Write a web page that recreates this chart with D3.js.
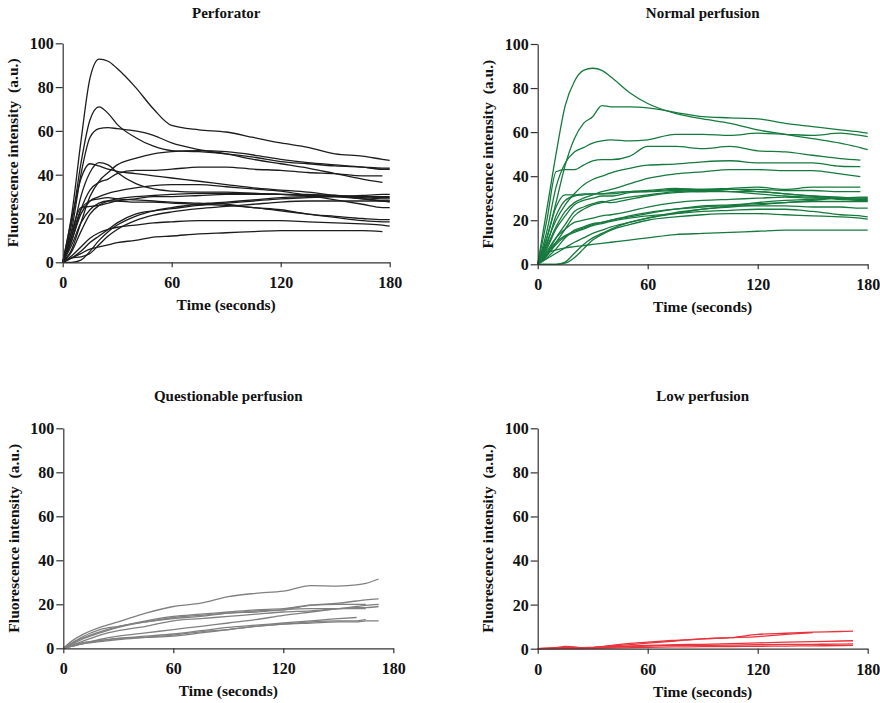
<!DOCTYPE html>
<html><head><meta charset="utf-8">
<script src="https://cdn.jsdelivr.net/npm/d3@7"></script>
<style>
body{margin:0;background:#fff;}
svg text{font-family:"Liberation Serif","Times New Roman",serif;font-weight:bold;fill:#111;}
</style></head>
<body><svg id="c" width="880" height="703"></svg>
<script>
// ---------- DATA ----------
const xTicks = [0, 60, 120, 180];
const yTicks = [0, 20, 40, 60, 80, 100];
const titles = ["Perforator", "Normal perfusion", "Questionable perfusion", "Low perfusion"];
const xLabel = "Time (seconds)";
const yLabel = "Fluorescence intensity  (a.u.)";

const perforatorTimes = [0,5,10,15,20,25,30,40,50,60,75,90,105,120,135,150,165,176,180];
const perforatorSeries = [
  [0,22,55,84,92.8,91.8,88.5,80,70,62.5,60.5,59.5,57,54.5,52.5,49.5,48.5,47,46.5],
  [0,18,45,65,71,68,63,57,53,51,50.5,49.5,48,46,45,44,43.5,43,43],
  [0,15,40,57,61,61.5,61,60,58,54.5,51.5,49.5,47,45,43,40.5,38,36.5,null],
  [0,20,38,45,44,42.5,41.5,40.5,39.5,38.5,37,35.5,34,33,32,30.5,29,28,28],
  [0,12,30,41,45.5,44.5,41,36,33.5,32.5,32,32,31.5,31,30.5,30,29,28,27.5],
  [0,6,18,30,37,41,44.5,47.5,49.5,50.5,51,50.5,49,47,45.5,44.5,43.5,42.5,42.5],
  [0,10,24,33,36.5,38,40.5,42,42,42.5,43.5,43.5,42.5,42,41,40.5,39.5,39.5,null],
  [0,10,22,28,30,31.5,32.5,34,35,35.5,35.5,34.5,33.5,32.5,30.5,28.5,26.5,25,25],
  [0,12,24,28,29,29.5,29,28.5,28,27.5,27,26.5,25,24,22,21,20,19.5,19.5],
  [0,8,18,24,27,28,28,27.5,27.5,27,26.5,26,25,23.5,22,20.5,19,18.5,18.5],
  [0,2,5,9,12,15,18,22,23.5,24.5,26,27,28,29,29.5,30,30.5,31,31],
  [0,3,7,11,13.5,15,16,17,18,18.5,19,19,19,19,18.5,18,17.5,17,16.5],
  [0,2,4,6,7,8,9,10,11.5,12,13,13.5,14,14.5,14.5,14.5,14.5,14,null],
  [0,0,1,5,10,14,17,21,23.5,25,26.5,27.5,28.5,29.5,30,30,29.5,29,29],
  [0,2,2.5,4,8,12,15,19,21.5,23,24.5,25.5,26.5,27.5,28,28,28,28,28],
  [0,5,14,22,26,28,29,30,30.5,31,31.5,31.5,31.5,31,30.5,30.5,30,30,30],
  [0,14,25,25.5,26,27,28,29,30,30,30.5,31,31,31,31,30.5,30,29.5,29.5]
];

const normalTimes = [0,5,10,15,20,25,30,35,40,50,60,75,90,105,120,135,150,165,176,180];
const normalSeries = [
  [0,25,50,72,83,88,89,88,85,78,73,68.5,66,64,61,59,57,55,53,52],
  [0,12,28,45,57,64,67,72,71.5,71.5,71,69,67,66.5,66,64,62.5,61,60,59.5],
  [0,15,35,46,51,53,55,56,56.5,56,56.5,59,59,58.5,59.5,59,58.5,59.5,58.5,58],
  [0,20,42,43,43,45,47,47.5,47.5,49,53.5,53.5,52.5,53.5,51.5,51,49.5,48,47.3,null],
  [0,10,20,27,32,36,38.5,40,41.5,43.5,45,45.5,46.5,47,46,46,46,44.5,44.3,null],
  [0,8,17,24,28,30,31.5,33,34,36.5,39,41,42,43,43,42.5,42.5,41,39.8,null],
  [0,12,26,31.5,31.5,32,32,32,32,33,33.5,34.5,34,34.5,35,34,35,35,35,null],
  [0,9,22,29,31,31.5,32,32,32.5,33,33,33.5,33,34,34,33.5,33.5,33,33,null],
  [0,7,16,22,27,29,30,31,31,32.5,33,34,34,34,33,32,31,30,29.5,29.5],
  [0,5,12,18,24,26,27.5,28.5,28,29.5,31,32.5,33,33,33,32,31,30.5,30,30],
  [0,4,10,16,22,25,27,28,29,30.5,31.5,33,33.5,33,32,31,30.5,29.5,29,29],
  [0,2.5,5,7.5,10,12,14,15.5,17,19,21,23,25,26,27,28,29,30,30,30],
  [0,3,7,12,15.5,17,18.5,19,20,21.5,23,25,26.5,27,27.5,28,28.5,28.5,28.5,28.5],
  [0,0,0,1,5,9,12,14,16,19,21,23.5,25,26.5,28,29,29.5,30,30.5,30.5],
  [0,0,0,0.5,3,7,11,13.5,15.5,18,20,21.5,22.5,23,23,22.5,22,21.5,21,20.5],
  [0,4,9,12.5,14.5,16,17.5,18.5,19.5,21,22,23,24,24.5,25,25,24,22.5,22,21.5],
  [0,5,10,13,15,16.5,18,19,20,22,23.5,25,26,26.5,26.5,26.5,26,26,25.5,25.5],
  [0,5,6.5,7.5,8,8.5,9,9.5,10,11,12,13.5,14,14.5,15,15.5,15.5,15.5,15.5,15.5],
  [0,6,12,16,19,20,21,22,22.5,24,26,28,29,29.5,30,30.5,30,30,29,29]
];

const questionableTimes = [0,5,10,20,30,45,60,75,90,105,120,135,150,160,165,172];
const questionableSeries = [
  [0,3.5,6,9.5,12,16,19,20.5,23.5,25,26,28.5,28.3,28.8,29.5,31.5],
  [0,2.5,4.5,7.5,9.8,12.5,14.5,15.5,16.5,17.5,18,19.7,20.5,21.5,22,22.5],
  [0,2,4,7,9.5,12,14,15,16,17,17.5,19.5,20,20,20,null],
  [0,1.5,3,6,8,10,12.5,13.5,14.5,15.5,16.5,17,18,18.5,18.5,19],
  [0,2.5,5,8.5,10,12,13.5,14.5,16,16.5,17.5,18,18,18,18,null],
  [0,1,2,4,5.5,7,8.5,10,11.5,13,15,16.5,18,19,19.5,20],
  [0,1,2,3.5,4.5,5.5,6.5,8,9.5,10.5,11.5,12.5,13.5,14,null,null],
  [0,1,2,3,4,5,6,7.5,8.5,10,11,11.5,12,12,12.5,12.5],
  [0,1.5,2.5,3.5,4.5,5,5.5,7,8.5,10,11,12,12.5,12.5,13,null]
];

const lowTimes = [0,10,15,20,25,30,45,60,75,90,105,120,135,150,165,172];
const lowSeries = [
  [0,0.5,1,0.8,0.3,0.5,2,3,3.8,4.5,5,6.5,7,7.5,7.8,8],
  [0,0.3,0.5,0.5,0.4,0.5,1.5,2.5,3.5,4.5,5,5.5,6.5,7.3,null,null],
  [0,0.2,0.3,0.4,0.5,0.6,1,1.5,1.8,2,2.3,2.6,3,3.2,3.5,3.6],
  [0,0,0,0,0.1,0.2,0.4,0.6,0.8,0.9,1,1.1,1.2,1.3,1.4,1.5],
  [0,0.1,0.2,0.3,0.4,0.5,0.8,1.2,1.5,1.5,1.6,1.8,2,2,2.1,2.2]
];

const colors = ["#1c1c1c", "#167a3e", "#808080", "#e8343c"];

// ---------- LAYOUT ----------
const boxes = [
  {l: 62.7, r: 389.7, t: 43.3, b: 262.3, titleY: 17.5},
  {l: 537.7, r: 867.7, t: 44, b: 264.3, titleY: 17.5},
  {l: 63.3, r: 393.3, t: 428.3, b: 648.3, titleY: 400.5},
  {l: 537.7, r: 867.7, t: 428.3, b: 648.7, titleY: 400.5}
];
const panelData = [
  {times: perforatorTimes, series: perforatorSeries},
  {times: normalTimes, series: normalSeries},
  {times: questionableTimes, series: questionableSeries},
  {times: lowTimes, series: lowSeries}
];

const svg = d3.select("#c");

panelData.forEach((pd, i) => {
  const bx = boxes[i];
  const x = d3.scaleLinear().domain([0, 180]).range([bx.l, bx.r]);
  const y = d3.scaleLinear().domain([0, 100]).range([bx.b, bx.t]);
  const g = svg.append("g");

  const line = d3.line()
    .defined(d => d[1] != null)
    .x(d => x(d[0])).y(d => y(d[1]))
    .curve(d3.curveMonotoneX);

  g.append("g").selectAll("path").data(pd.series).join("path")
    .attr("d", s => line(s.map((v, k) => [pd.times[k], v])))
    .attr("fill", "none")
    .attr("stroke", colors[i])
    .attr("stroke-width", 1.3)
    .attr("stroke-linejoin", "round");

  const xa = g.append("g").attr("transform", `translate(0,${bx.b})`)
    .call(d3.axisBottom(x).tickValues(xTicks).tickSize(5).tickSizeOuter(0).tickFormat(d3.format("d")));
  xa.selectAll("text").attr("y", 26).attr("dy", 0).style("font-size", "16px");
  const ya = g.append("g").attr("transform", `translate(${bx.l},0)`)
    .call(d3.axisLeft(y).tickValues(yTicks).tickSize(7).tickSizeOuter(0).tickPadding(2).tickFormat(d3.format("d")));
  ya.selectAll("text").attr("dy", "0.34em").style("font-size", "16px");
  [xa, ya].forEach(a => {
    a.select(".domain").attr("stroke", "#333").attr("stroke-width", 1.2);
    a.selectAll(".tick line").attr("stroke", "#333").attr("stroke-width", 1.2);
    a.selectAll("text").attr("fill", "#111").style("font-family", '"Liberation Serif", serif').style("font-weight", "bold");
  });

  const cx = (bx.l + bx.r) / 2;
  g.append("text").attr("x", cx).attr("y", bx.titleY).attr("text-anchor", "middle")
    .style("font-size", "15px").text(titles[i]);
  g.append("text").attr("x", cx).attr("y", bx.b + 48).attr("text-anchor", "middle")
    .style("font-size", "15.5px").text(xLabel);
  g.append("text")
    .attr("transform", `translate(${bx.l - 44.5},${(bx.t + bx.b) / 2}) rotate(-90)`)
    .attr("text-anchor", "middle").style("font-size", "15.5px")
    .style("white-space", "pre").attr("xml:space", "preserve").text(yLabel);
});
</script></body></html>
